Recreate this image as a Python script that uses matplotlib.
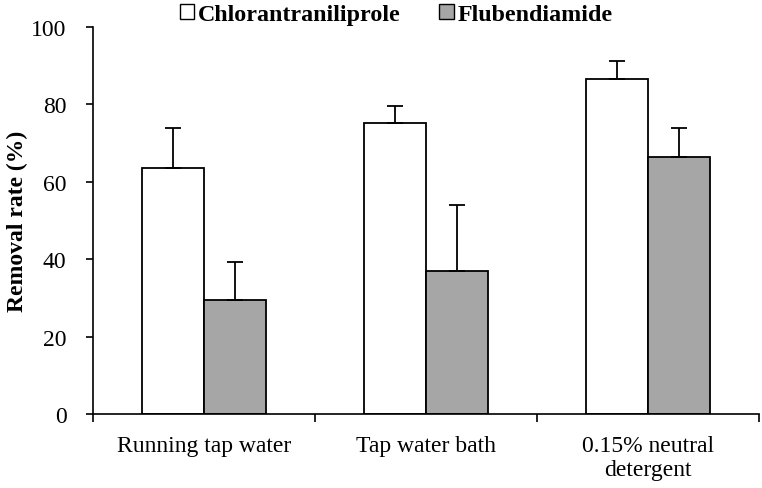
import numpy as np
import matplotlib.pyplot as plt
from matplotlib.patches import Patch

# Datos
categorias = ['Running tap water', 'Tap water bath', '0.15% neutral\ndetergent']
chlor = [63.6, 75.3, 86.6]
chlor_err = [10.2, 4.2, 4.5]
flub = [29.5, 37.0, 66.3]
flub_err = [9.7, 17.0, 7.7]

plt.rcParams['font.family'] = ['Liberation Serif', 'DejaVu Serif']

fig = plt.figure(figsize=(7.62, 4.89), dpi=100)
ax = fig.add_axes([0.122, 0.151, 0.874, 0.792])

x = np.arange(len(categorias))
ancho = 0.28
gris = '#a6a6a6'

ax.bar(x - ancho / 2, chlor, ancho, color='white', edgecolor='black', linewidth=1.3,
       yerr=[np.zeros(3), chlor_err], error_kw=dict(ecolor='black', elinewidth=1.3, capsize=6, capthick=1.3))
ax.bar(x + ancho / 2, flub, ancho, color=gris, edgecolor='black', linewidth=1.3,
       yerr=[np.zeros(3), flub_err], error_kw=dict(ecolor='black', elinewidth=1.3, capsize=6, capthick=1.3))

ax.set_xlim(-0.5, 2.5)
ax.set_ylim(0, 100)
ax.set_yticks(np.arange(0, 101, 20))
ax.tick_params(axis='y', labelsize=17, width=1.2, length=5, direction='out', pad=14)

# ticks de categoria en los bordes
ax.set_xticks(np.arange(-0.5, 3.0, 1.0))
ax.set_xticklabels([])
ax.tick_params(axis='x', width=1.2, length=6, direction='out')
for i, c in enumerate(categorias):
    ax.text(i, -5.5, c, ha='center', va='top', fontsize=17, linespacing=1.18)

ax.spines['top'].set_visible(False)
ax.spines['right'].set_visible(False)
ax.spines['left'].set_linewidth(1.2)
ax.spines['bottom'].set_linewidth(1.2)

ax.set_ylabel('Removal rate (%)', fontsize=17, fontweight='bold', labelpad=2)

handles = [Patch(facecolor='white', edgecolor='black', linewidth=1.0),
           Patch(facecolor=gris, edgecolor='black', linewidth=1.0)]
fig.legend(handles, ['Chlorantraniliprole', 'Flubendiamide'], loc='upper center',
           bbox_to_anchor=(0.52, 1.035), ncol=2, frameon=False,
           prop=dict(weight='bold', size=17.3), handlelength=0.6, handleheight=0.6,
           handletextpad=0.15, columnspacing=1.6)

fig.savefig('out.png', dpi=100)
